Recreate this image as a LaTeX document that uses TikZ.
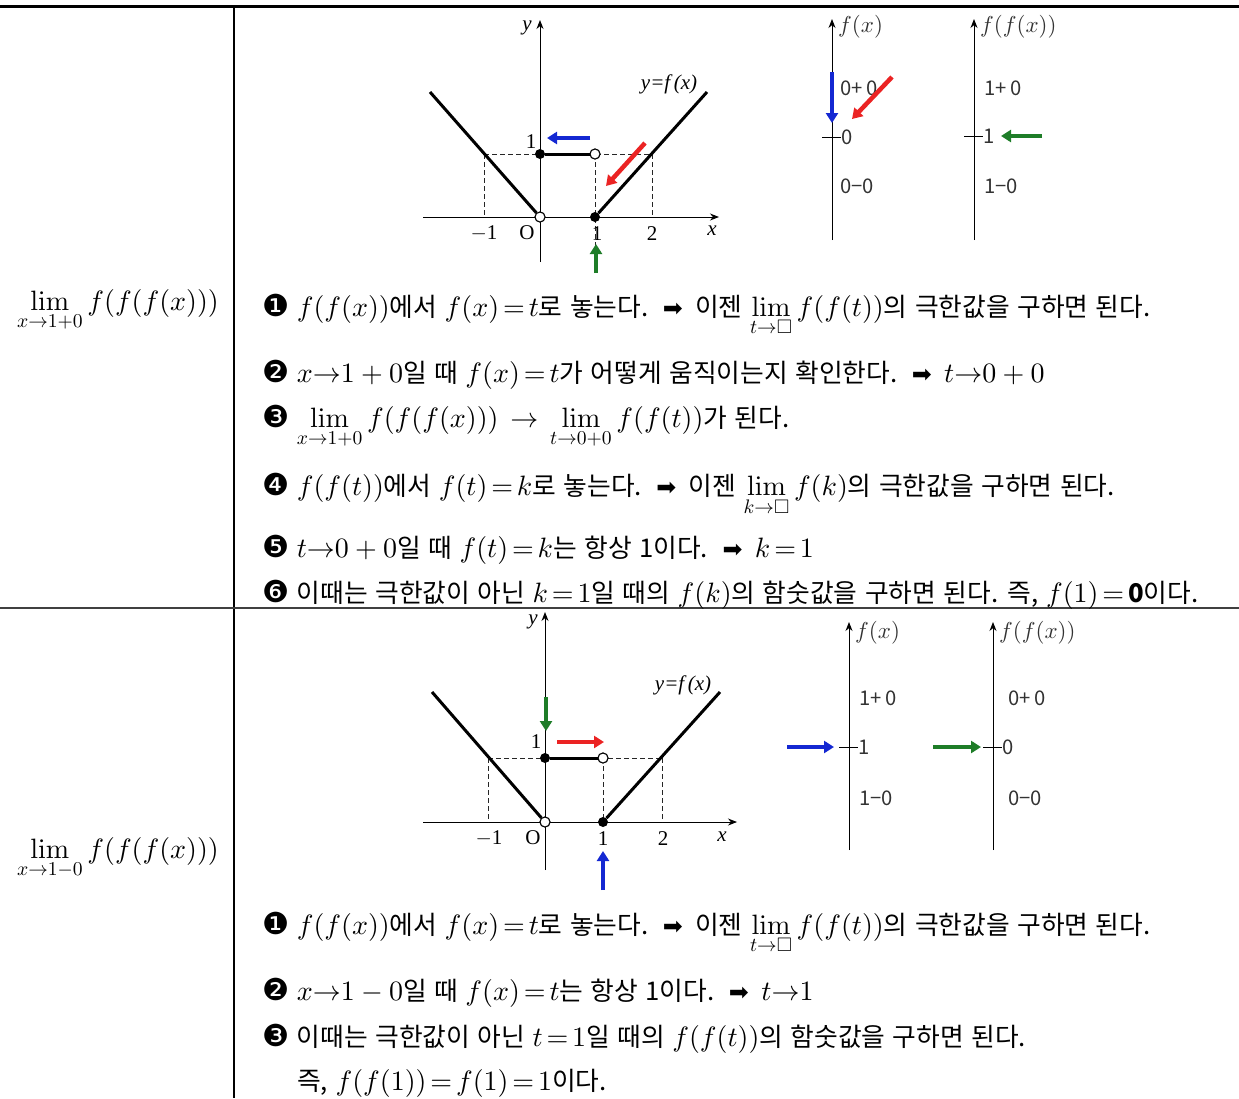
\documentclass[tikz,border=0pt]{standalone}
\usepackage{amsmath,amssymb}
\usepackage[no-math]{fontspec}
\setmainfont{Noto Sans CJK KR}[Scale=0.92,WordSpace=1.3]
\newfontfamily\dv{DejaVu Sans}[Scale=1.08]
\newfontfamily\dva{DejaVu Sans}[Scale=0.85]
\newfontfamily\tms{Liberation Serif}
\DeclareFontShape{OML}{cmm}{m}{it}{<-6>cmmi5<6-8>cmmi7<8->cmmi10}{\skewchar\font'177}
\DeclareFontShape{OT1}{cmr}{m}{n}{<-6>cmr5<6-8>cmr7<8->cmr10}{}
\DeclareFontShape{OMS}{cmsy}{m}{n}{<-6>cmsy5<6-8>cmsy7<8->cmsy10}{\skewchar\font'60}
\DeclareFontShape{OMX}{cmex}{m}{n}{<->cmex10}{}
\thickmuskip=2.5mu plus 2mu
\usetikzlibrary{arrows.meta}
\definecolor{cblue}{RGB}{20,40,210}
\definecolor{cred}{RGB}{235,35,35}
\definecolor{cgreen}{RGB}{30,125,40}
\newcommand{\cn}[1]{{\dv #1}}
\newcommand{\ar}{\hspace{5pt}{\dva ➡}\hspace{5pt}}
\newcommand{\Lmath}[1]{$#1$}
\begin{document}
\begin{tikzpicture}[x=1pt,y=-1pt,
  txt/.style={anchor=base west, inner sep=0, font=\fontsize{28}{32}\selectfont},
  lft/.style={anchor=base, inner sep=0, font=\fontsize{28}{32}\selectfont},
  graphln/.style={line width=3pt},
  axisln/.style={line width=1pt, -{Stealth[length=9pt,width=7pt]}},
  dashln/.style={dash pattern=on 5pt off 3pt, line width=0.9pt, black!85},
  carrow/.style={line width=4.5pt, -{Triangle[length=10pt,width=12pt]}},
  opendot/.style={circle, draw, fill=white, inner sep=0, minimum size=10pt, line width=1pt},
  filldot/.style={circle, fill=black, inner sep=0, minimum size=10pt},
  glab/.style={font=\tms\fontsize{21}{21}\selectfont, inner sep=0},
  gilab/.style={font=\tms\itshape\fontsize{21}{21}\selectfont, inner sep=0},
  tlab/.style={font=\fontsize{22}{22}\selectfont, text=black!80, inner sep=0},
  alab/.style={font=\fontsize{23}{23}\selectfont, text=black!80, inner sep=0, anchor=west},
  tick/.style={line width=1pt},
  tblln/.style={line width=1.3pt}
]
\useasboundingbox (0,0) rectangle (1239,1098);

% ---------- table ----------
\draw[line width=3pt] (0,6) -- (1239,6);
\draw[tblln] (234,6) -- (234,1098);
\draw[line width=1.2pt, black!75] (0,608) -- (1239,608);

% ---------- left column ----------
\node[lft] (lim1) at (118,310) {\Lmath{\lim\limits_{x\to1+0}f(f(f(x)))}};
\node[lft] (lim2) at (118,858) {\Lmath{\lim\limits_{x\to1-0}f(f(f(x)))}};

% ---------- top graph ----------
\draw[axisln] (423,217) -- (719,217);
\draw[axisln] (540,262) -- (540,20);
\draw[dashln] (484,154) -- (652,154);
\draw[dashln] (484,154) -- (484,217);
\draw[dashln] (652,154) -- (652,217);
\draw[dashln] (595,154) -- (595,247);
\node[filldot] (a1) at (540,154) {};
\node[opendot] (a2) at (595,154) {};
\node[opendot] (a0) at (540,217) {};
\node[filldot] (a3) at (595,217) {};
\coordinate (aL) at (430,92);
\coordinate (aR) at (707,92);
\draw[graphln] (aL) -- (a0);
\draw[graphln] (a1) -- (a2);
\draw[graphln] (a3) -- (aR);
\node[opendot] at (a2) {};
\node[opendot] at (a0) {};
\node[gilab] (ay) at (527,28) {y};
\node[gilab] (ax) at (712,231) {x};
\node[glab] (am1) at (484,233) {$-$1};
\node[glab] (aO) at (527,233) {O};
\node[glab] (a1l) at (597,234) {1};
\node[glab] (a2l) at (652,234) {2};
\node[glab] (ay1) at (531,142) {1};
\node[gilab] (afn) at (669,84) {y=f\,(x)};
\coordinate (bA1) at (590,138); \coordinate (bA2) at (547,138);
\draw[carrow, cblue] (bA1) -- (bA2);
\coordinate (rA1) at (645,143); \coordinate (rA2) at (606,186);
\draw[carrow, cred] (rA1) -- (rA2);
\coordinate (gA1) at (596,273); \coordinate (gA2) at (596,244);
\draw[carrow, cgreen] (gA1) -- (gA2);

% ---------- top small axes ----------
\draw[axisln] (832,240) -- (832,19);
\node[alab] (fx1) at (838,27) {$f(x)$};
\draw[tick] (822,137) -- (841,137);
\node[tlab, anchor=west] (z0) at (841,137) {0};
\node[tlab, anchor=west] (zp) at (840,88) {0+\,0};
\node[tlab, anchor=west] (zm) at (840,186) {0−0};
\coordinate (bB1) at (832,72); \coordinate (bB2) at (832,123);
\draw[carrow, cblue] (bB1) -- (bB2);
\coordinate (rB1) at (892,77); \coordinate (rB2) at (852,119);
\draw[carrow, cred] (rB1) -- (rB2);

\draw[axisln] (974,240) -- (974,19);
\node[alab] (ffx1) at (980,27) {$f(f(x))$};
\draw[tick] (964,136) -- (983,136);
\node[tlab, anchor=west] (o1) at (983,136) {1};
\node[tlab, anchor=west] (op) at (984,88) {1+\,0};
\node[tlab, anchor=west] (om) at (984,186) {1−0};
\coordinate (gB1) at (1042,136); \coordinate (gB2) at (1001,136);
\draw[carrow, cgreen] (gB1) -- (gB2);

% ---------- top text ----------
\node[txt] (t1) at (262,316) {\cn{❶} $f(f(x))$에서 $f(x)=t$로 놓는다. \ar{} 이젠 \Lmath{\lim\limits_{t\to\Box}f(f(t))}의 극한값을 구하면 된다.};
\node[txt] (t2) at (262,382) {\cn{❷} $x{\to}1+0$일 때 $f(x)=t$가 어떻게 움직이는지 확인한다. \ar{} $t{\to}0+0$};
\node[txt] (t3) at (262,427) {\cn{❸} \Lmath{\lim\limits_{x\to1+0}f(f(f(x)))} \,$\to$\, \Lmath{\lim\limits_{t\to0+0}f(f(t))}가 된다.};
\node[txt] (t4) at (262,495) {\cn{❹} $f(f(t))$에서 $f(t)=k$로 놓는다. \ar{} 이젠 \Lmath{\lim\limits_{k\to\Box}f(k)}의 극한값을 구하면 된다.};
\node[txt] (t5) at (262,557) {\cn{❺} $t{\to}0+0$일 때 $f(t)=k$는 항상 1이다. \ar{} $k=1$};
\node[txt] (t6) at (262,602) {\cn{❻} 이때는 극한값이 아닌 $k=1$일 때의 $f(k)$의 함숫값을 구하면 된다. 즉, $f(1)={}${\bfseries 0}이다.};

% ---------- bottom graph ----------
\draw[axisln] (423,822) -- (737,822);
\draw[axisln] (545,870) -- (545,612);
\draw[dashln] (488,758) -- (662,758);
\draw[dashln] (488,758) -- (488,822);
\draw[dashln] (603,758) -- (603,822);
\draw[dashln] (662,758) -- (662,822);
\node[filldot] (c1) at (545,758) {};
\node[opendot] (c2) at (603,758) {};
\node[opendot] (c0) at (545,822) {};
\node[filldot] (c3) at (603,822) {};
\coordinate (cL) at (432,692);
\coordinate (cR) at (720,692);
\draw[graphln] (cL) -- (c0);
\draw[graphln] (c1) -- (c2);
\draw[graphln] (c3) -- (cR);
\node[opendot] at (c2) {};
\node[opendot] at (c0) {};
\node[gilab] (cy) at (533,622) {y};
\node[gilab] (cx) at (722,837) {x};
\node[glab] (cm1) at (489,838) {$-$1};
\node[glab] (cO) at (533,838) {O};
\node[glab] (c1l) at (603,839) {1};
\node[glab] (c2l) at (663,839) {2};
\node[glab] (cy1) at (536,742) {1};
\node[gilab] (cfn) at (683,685) {y=f\,(x)};
\coordinate (gC1) at (546,697); \coordinate (gC2) at (546,731);
\draw[carrow, cgreen] (gC1) -- (gC2);
\coordinate (rC1) at (557,742); \coordinate (rC2) at (604,742);
\draw[carrow, cred] (rC1) -- (rC2);
\coordinate (bC1) at (603,890); \coordinate (bC2) at (603,851);
\draw[carrow, cblue] (bC1) -- (bC2);

% ---------- bottom small axes ----------
\draw[axisln] (849,850) -- (849,622);
\node[alab] (fx2) at (855,633) {$f(x)$};
\draw[tick] (839,747) -- (858,747);
\node[tlab, anchor=west] (w1) at (858,747) {1};
\node[tlab, anchor=west] (wp) at (859,698) {1+\,0};
\node[tlab, anchor=west] (wm) at (859,798) {1−0};
\coordinate (bD1) at (787,747); \coordinate (bD2) at (834,747);
\draw[carrow, cblue] (bD1) -- (bD2);

\draw[axisln] (993,850) -- (993,622);
\node[alab] (ffx2) at (999,633) {$f(f(x))$};
\draw[tick] (983,747) -- (1002,747);
\node[tlab, anchor=west] (v0) at (1002,747) {0};
\node[tlab, anchor=west] (vp) at (1008,698) {0+\,0};
\node[tlab, anchor=west] (vm) at (1008,798) {0−0};
\coordinate (gD1) at (933,747); \coordinate (gD2) at (981,747);
\draw[carrow, cgreen] (gD1) -- (gD2);

% ---------- bottom text ----------
\node[txt] (s1) at (262,934) {\cn{❶} $f(f(x))$에서 $f(x)=t$로 놓는다. \ar{} 이젠 \Lmath{\lim\limits_{t\to\Box}f(f(t))}의 극한값을 구하면 된다.};
\node[txt] (s2) at (262,1000) {\cn{❷} $x{\to}1-0$일 때 $f(x)=t$는 항상 1이다. \ar{} $t{\to}1$};
\node[txt] (s3) at (262,1046) {\cn{❸} 이때는 극한값이 아닌 $t=1$일 때의 $f(f(t))$의 함숫값을 구하면 된다.};
\node[txt] (s4) at (297,1090) {즉, $f(f(1))=f(1)=1$이다.};
\end{tikzpicture}
\end{document}
